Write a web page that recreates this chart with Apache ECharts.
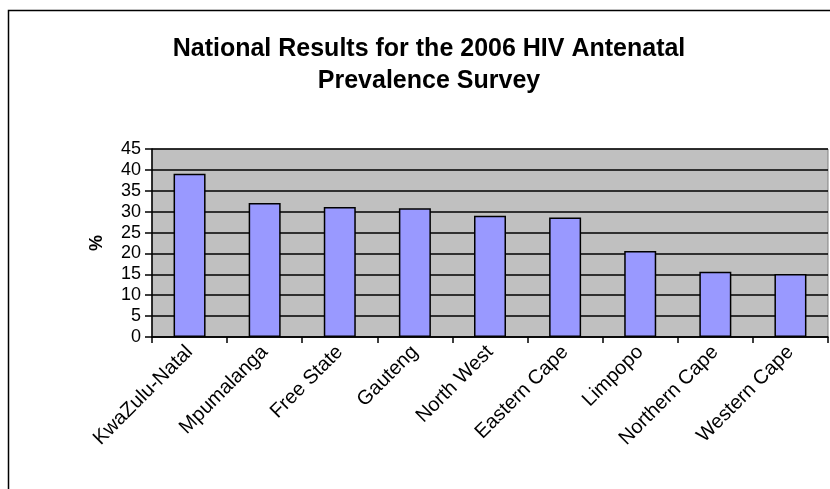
<!DOCTYPE html>
<html>
<head>
<meta charset="utf-8">
<script src="https://cdn.jsdelivr.net/npm/echarts@6/dist/echarts.min.js"></script>
<style>
    html, body { margin: 0; padding: 0; background: #fff; }
    #chart { width: 830px; height: 489px; }
</style>
</head>
<body>
<div id="chart"></div>
<script>
// provinces and HIV prevalence (%)
const provinces = ['KwaZulu-Natal', 'Mpumalanga', 'Free State', 'Gauteng', 'North West',
    'Eastern Cape', 'Limpopo', 'Northern Cape', 'Western Cape']
const prevalence = [39.1, 32.1, 31.1, 30.8, 29.0, 28.6, 20.6, 15.6, 15.1]
const yTicks = [0, 5, 10, 15, 20, 25, 30, 35, 40, 45]

const myChart = echarts.init(document.getElementById('chart'))
const options = {
    animation: false,
    textStyle: { fontFamily: 'Liberation Sans, Arial, sans-serif' },
    title: {
        text: 'National Results for the 2006 HIV Antenatal\nPrevalence Survey',
        left: 424,
        top: 28,
        textAlign: 'center',
        textStyle: {
            fontSize: 25,
            fontWeight: 'bold',
            color: '#000',
            lineHeight: 32
        }
    },
    // outer chart frame, runs off the right and bottom edges
    graphic: [{
        type: 'rect',
        shape: { x: 8.5, y: 10.5, width: 900, height: 600 },
        style: { fill: 'none', stroke: '#000', lineWidth: 1.5 },
        silent: true
    }],
    grid: {
        left: 152,
        right: 2,
        top: 149,
        height: 188,
        show: true,
        backgroundColor: '#c0c0c0',
        borderColor: '#808080',
        borderWidth: 1
    },
    xAxis: {
        type: 'category',
        data: provinces,
        boundaryGap: true,
        axisLine: { lineStyle: { color: '#000', width: 1.5 } },
        axisTick: { show: true, length: 6, lineStyle: { color: '#000', width: 1.5 } },
        axisLabel: {
            interval: 0,
            rotate: 45,
            fontSize: 20,
            color: '#000',
            margin: 12
        }
    },
    yAxis: {
        type: 'value',
        min: yTicks[0],
        max: yTicks[yTicks.length - 1],
        interval: 5,
        name: '%',
        nameLocation: 'middle',
        nameGap: 46,
        nameRotate: 90,
        nameTextStyle: { fontSize: 18, fontWeight: 'bold', color: '#000' },
        axisLine: { show: true, lineStyle: { color: '#000', width: 1.5 } },
        axisTick: { show: true, length: 7, lineStyle: { color: '#000', width: 1.5 } },
        axisLabel: { fontSize: 18, color: '#000', margin: 11 },
        splitLine: { lineStyle: { color: '#000', width: 1.5 } }
    },
    series: [{
        type: 'bar',
        data: prevalence,
        barWidth: 32,
        itemStyle: {
            color: '#9999ff',
            borderColor: '#000',
            borderWidth: 1.5
        }
    }]
}
myChart.setOption(options)
</script>
</body>
</html>
